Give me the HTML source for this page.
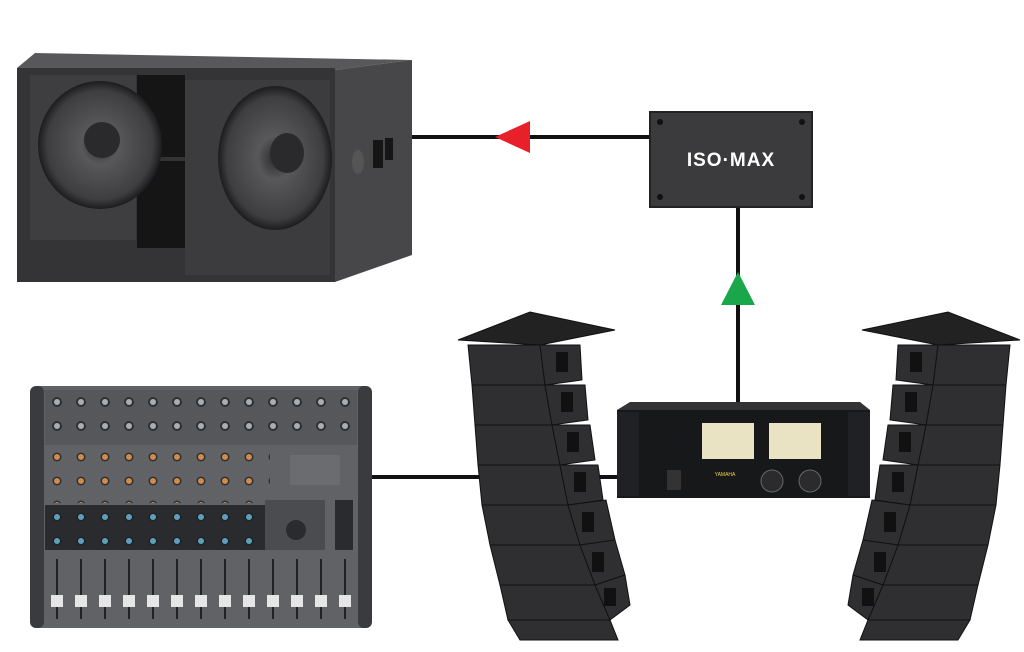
<!DOCTYPE html>
<html><head><meta charset="utf-8"><style>
html,body{margin:0;padding:0;background:#fff;}
svg{display:block;}
</style></head><body>
<svg width="1024" height="652" viewBox="0 0 1024 652" xmlns="http://www.w3.org/2000/svg" font-family="Liberation Sans, sans-serif">
<defs>
<radialGradient id="cone" cx="50%" cy="50%" r="50%">
<stop offset="0" stop-color="#2a2a2c"/><stop offset="0.3" stop-color="#58585b"/><stop offset="0.85" stop-color="#3e3e41"/><stop offset="1" stop-color="#1c1c1e"/></radialGradient>
<pattern id="knobs" x="45" y="390" width="24" height="24" patternUnits="userSpaceOnUse">
<circle cx="12" cy="12" r="5" fill="#2e2f32"/><circle cx="12" cy="12" r="3" fill="#a9aeb3"/></pattern>
<pattern id="knobs2" x="45" y="445" width="24" height="24" patternUnits="userSpaceOnUse">
<circle cx="12" cy="12" r="4.5" fill="#2e2f32"/><circle cx="12" cy="12" r="3" fill="#d08a4a"/></pattern>
<pattern id="knobs3" x="45" y="505" width="24" height="24" patternUnits="userSpaceOnUse">
<circle cx="12" cy="12" r="4.5" fill="#222"/><circle cx="12" cy="12" r="3" fill="#5aa0c0"/></pattern>
<pattern id="faders" x="45" y="555" width="24" height="70" patternUnits="userSpaceOnUse">
<rect x="11" y="4" width="2" height="60" fill="#222"/><rect x="6" y="40" width="12" height="12" fill="#e6e6e6"/></pattern>
</defs>

<!-- connectors -->
<line x1="410" y1="137" x2="652" y2="137" stroke="#111" stroke-width="4"/>
<polygon points="495,137 530,121 530,153" fill="#e8202a"/>
<line x1="738" y1="205" x2="738" y2="405" stroke="#111" stroke-width="4"/>
<polygon points="738,272 721,305 755,305" fill="#1aa64b"/>
<line x1="370" y1="477" x2="620" y2="477" stroke="#111" stroke-width="4"/>

<!-- subwoofer -->
<polygon points="17,68 35,53 412,60 335,70" fill="#58585a"/>
<polygon points="335,70 412,60 412,255 335,282" fill="#47474a"/>
<rect x="17" y="68" width="318" height="214" fill="#343436"/>
<rect x="30" y="75" width="106" height="165" fill="#3e3e40"/>
<rect x="185" y="80" width="145" height="195" fill="#3c3c3e"/>
<rect x="137" y="75" width="48" height="173" fill="#151516"/>
<rect x="137" y="157" width="48" height="4" fill="#333"/>
<ellipse cx="100" cy="145" rx="62" ry="64" fill="url(#cone)"/>
<ellipse cx="102" cy="140" rx="18" ry="18" fill="#2a2a2c"/>
<ellipse cx="275" cy="158" rx="57" ry="72" fill="url(#cone)"/>
<ellipse cx="287" cy="153" rx="17" ry="20" fill="#2a2a2c"/>
<rect x="373" y="140" width="10" height="28" fill="#151515"/>
<rect x="385" y="138" width="8" height="22" fill="#151515"/>
<ellipse cx="358" cy="162" rx="6" ry="12" fill="#555"/>

<!-- ISO MAX -->
<rect x="650" y="112" width="162" height="95" fill="#3b3b3d"/>
<rect x="650" y="112" width="162" height="95" fill="none" stroke="#222" stroke-width="2"/>
<text x="731" y="166" text-anchor="middle" font-size="19" font-weight="bold" fill="#fff" letter-spacing="1">ISO·MAX</text>
<circle cx="660" cy="122" r="3" fill="#111"/><circle cx="802" cy="122" r="3" fill="#111"/>
<circle cx="660" cy="197" r="3" fill="#111"/><circle cx="802" cy="197" r="3" fill="#111"/>

<!-- mixer -->
<rect x="30" y="386" width="342" height="242" rx="8" fill="#606266"/>
<rect x="30" y="386" width="14" height="242" rx="6" fill="#3a3b3e"/>
<rect x="358" y="386" width="14" height="242" rx="6" fill="#3a3b3e"/>
<rect x="45" y="390" width="312" height="55" fill="#55575b"/>
<rect x="45" y="392" width="310" height="52" fill="url(#knobs)"/>
<rect x="45" y="445" width="225" height="58" fill="url(#knobs2)"/>
<rect x="45" y="505" width="225" height="45" fill="#2a2b2e"/>
<rect x="45" y="505" width="225" height="45" fill="url(#knobs3)"/>
<rect x="265" y="500" width="60" height="50" fill="#4a4c50"/>
<circle cx="296" cy="530" r="10" fill="#2a2b2e"/>
<rect x="290" y="455" width="50" height="30" fill="#6a6c70"/>
<rect x="335" y="500" width="18" height="50" fill="#2a2b2e"/>
<rect x="45" y="553" width="312" height="70" fill="url(#faders)"/>

<!-- amp -->
<polygon points="630,402 860,402 870,410 617,410" fill="#333336"/>
<rect x="617" y="410" width="253" height="88" fill="#17181a"/>
<rect x="617" y="412" width="22" height="84" fill="#202124"/>
<rect x="848" y="412" width="22" height="84" fill="#202124"/>
<rect x="702" y="423" width="52" height="36" fill="#e9e3c4"/>
<rect x="769" y="423" width="52" height="36" fill="#e9e3c4"/>
<circle cx="772" cy="481" r="11" fill="#2b2b2d" stroke="#666" stroke-width="1"/>
<circle cx="810" cy="481" r="11" fill="#2b2b2d" stroke="#666" stroke-width="1"/>
<rect x="667" y="470" width="14" height="20" fill="#333"/>
<text x="725" y="476" text-anchor="middle" font-size="5" fill="#f5d040">YAMAHA</text>

<!-- left line array -->
<g fill="#2f2f31" stroke="#111" stroke-width="1">
<polygon points="458,340 530,312 615,330 540,345" fill="#222"/>
<polygon points="468,345 540,345 545,385 472,385"/>
<polygon points="540,345 580,345 582,380 545,385"/>
<polygon points="472,385 545,385 552,425 475,425"/>
<polygon points="545,385 585,385 588,420 552,425"/>
<polygon points="475,425 552,425 560,465 478,465"/>
<polygon points="552,425 590,425 595,460 560,465"/>
<polygon points="478,465 560,465 568,505 482,505"/>
<polygon points="560,465 598,465 603,500 568,505"/>
<polygon points="482,505 568,505 580,545 490,545"/>
<polygon points="568,505 606,500 615,540 580,545"/>
<polygon points="490,545 580,545 595,585 500,585"/>
<polygon points="580,545 615,540 625,575 595,585"/>
<polygon points="500,585 595,585 610,620 508,620"/>
<polygon points="595,585 625,575 630,605 610,620"/>
<polygon points="508,620 610,620 618,640 520,640"/>
</g>
<g fill="#111">
<rect x="556" y="352" width="12" height="20"/><rect x="561" y="392" width="12" height="20"/>
<rect x="567" y="432" width="12" height="20"/><rect x="574" y="472" width="12" height="20"/>
<rect x="582" y="512" width="12" height="20"/><rect x="592" y="552" width="12" height="20"/>
<rect x="604" y="588" width="12" height="18"/>
</g>
<!-- right line array -->
<g fill="#2f2f31" stroke="#111" stroke-width="1">
<polygon points="1020,340 948,312 862,330 938,345" fill="#222"/>
<polygon points="1010,345 938,345 933,385 1006,385"/>
<polygon points="938,345 898,345 896,380 933,385"/>
<polygon points="1006,385 933,385 926,425 1003,425"/>
<polygon points="933,385 893,385 890,420 926,425"/>
<polygon points="1003,425 926,425 918,465 1000,465"/>
<polygon points="926,425 888,425 883,460 918,465"/>
<polygon points="1000,465 918,465 910,505 996,505"/>
<polygon points="918,465 880,465 875,500 910,505"/>
<polygon points="996,505 910,505 898,545 988,545"/>
<polygon points="910,505 872,500 863,540 898,545"/>
<polygon points="988,545 898,545 883,585 978,585"/>
<polygon points="898,545 863,540 853,575 883,585"/>
<polygon points="978,585 883,585 868,620 970,620"/>
<polygon points="883,585 853,575 848,605 868,620"/>
<polygon points="970,620 868,620 860,640 958,640"/>
</g>
<g fill="#111">
<rect x="910" y="352" width="12" height="20"/><rect x="905" y="392" width="12" height="20"/>
<rect x="899" y="432" width="12" height="20"/><rect x="892" y="472" width="12" height="20"/>
<rect x="884" y="512" width="12" height="20"/><rect x="874" y="552" width="12" height="20"/>
<rect x="862" y="588" width="12" height="18"/>
</g>
</svg>
</body></html>
